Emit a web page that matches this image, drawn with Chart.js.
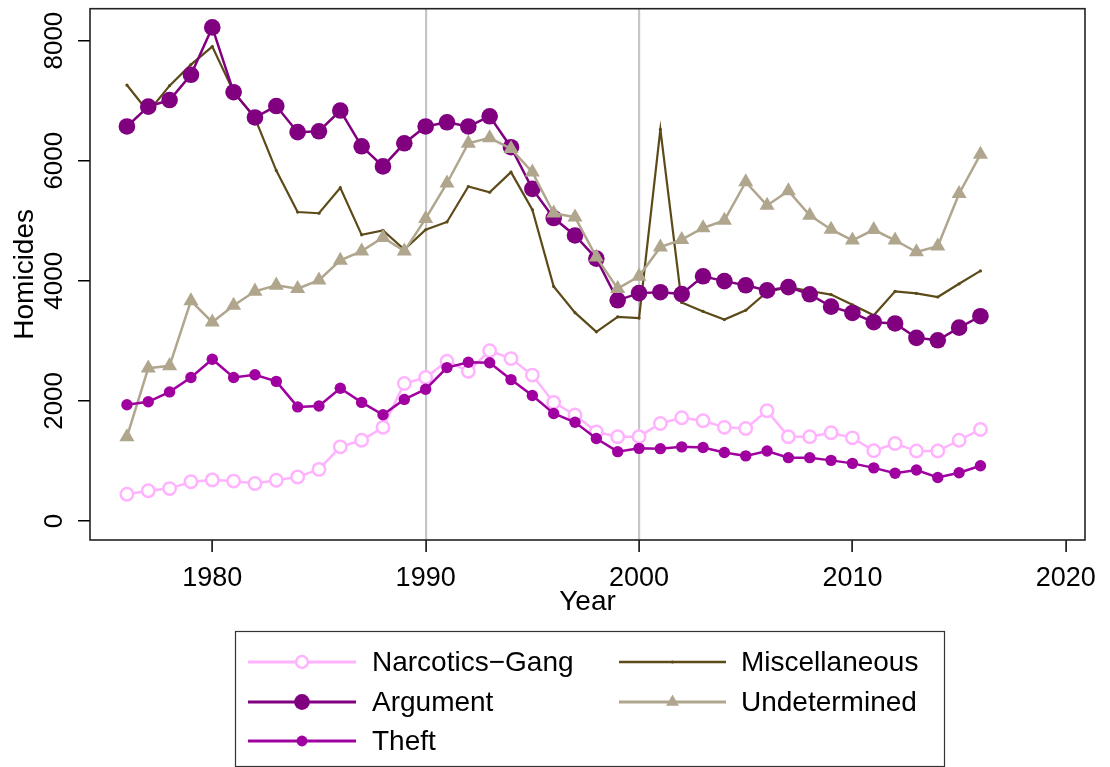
<!DOCTYPE html>
<html>
<head>
<meta charset="utf-8">
<script src="https://cdn.jsdelivr.net/npm/chart.js@4.4.1/dist/chart.umd.min.js"></script>
<style>
  html, body { margin: 0; padding: 0; background: #fff; }
  #wrap { width: 1110px; height: 767px; position: relative; }
  canvas { display: block; }
</style>
</head>
<body>
<div id="wrap"><canvas id="chart" width="1110" height="767"></canvas></div>
<script>
// Homicides by circumstance, 1976–2016
const years = [1976, 1977, 1978, 1979, 1980, 1981, 1982, 1983, 1984, 1985,
  1986, 1987, 1988, 1989, 1990, 1991, 1992, 1993, 1994, 1995,
  1996, 1997, 1998, 1999, 2000, 2001, 2002, 2003, 2004, 2005,
  2006, 2007, 2008, 2009, 2010, 2011, 2012, 2013, 2014, 2015, 2016];

const narcoticsGang = [445, 505, 540, 655, 685, 665, 625, 680, 735, 860,
  1235, 1345, 1560, 2290, 2390, 2660, 2495, 2835, 2705, 2430,
  1975, 1765, 1485, 1405, 1405, 1625, 1720, 1670, 1560, 1540,
  1835, 1405, 1405, 1470, 1385, 1170, 1290, 1165, 1165, 1345, 1525];

const miscellaneous = [7260, 6810, 7250, 7600, 7900, 7150, 6710, 5835, 5145, 5125,
  5550, 4765, 4840, 4520, 4850, 4980, 5570, 5475, 5810, 5185,
  3905, 3470, 3150, 3400, 3380, 6520, 3640, 3490, 3355, 3510,
  3815, 3895, 3830, 3770, 3600, 3425, 3825, 3790, 3730, 3950, 4165];

const argument = [6570, 6900, 7010, 7430, 8220, 7140, 6720, 6910, 6475, 6490,
  6835, 6240, 5905, 6290, 6570, 6640, 6570, 6740, 6225, 5530,
  5045, 4755, 4370, 3675, 3795, 3810, 3780, 4075, 3995, 3925,
  3840, 3895, 3775, 3570, 3465, 3310, 3290, 3050, 3010, 3220, 3410];

const undetermined = [1400, 2545, 2585, 3665, 3310, 3590, 3825, 3925, 3870, 4010,
  4340, 4495, 4720, 4495, 5035, 5625, 6290, 6380, 6200, 5810,
  5125, 5060, 4395, 3870, 4075, 4560, 4685, 4880, 5005, 5645,
  5255, 5495, 5090, 4855, 4675, 4850, 4675, 4480, 4575, 5450, 6105];

const theft = [1935, 1985, 2150, 2390, 2695, 2390, 2435, 2325, 1900, 1915,
  2210, 1975, 1770, 2025, 2195, 2555, 2645, 2635, 2355, 2090,
  1790, 1645, 1375, 1155, 1210, 1205, 1235, 1225, 1140, 1085,
  1165, 1055, 1055, 1010, 960, 885, 795, 850, 725, 805, 920];

const xTickValues = [1980, 1990, 2000, 2010, 2020];
const yTickValues = [0, 2000, 4000, 6000, 8000];
const referenceYears = [1990, 2000];

const FONT = "'Liberation Sans', Arial, Helvetica, sans-serif";
Chart.defaults.font.family = FONT;
Chart.defaults.color = '#000';

const toPoints = vals => vals.map((v, i) => ({ x: years[i], y: v }));

const seriesDefs = [
  { label: 'Narcotics\u2212Gang', values: narcoticsGang, color: '#ffb3ff', style: 'circle', radius: 6.2, hollow: true, width: 2.5 },
  { label: 'Miscellaneous', values: miscellaneous, color: '#5c4a18', style: 'circle', radius: 1.6, hollow: false, width: 2.2 },
  { label: 'Argument', values: argument, color: '#800080', style: 'circle', radius: 8.3, hollow: false, width: 2.5 },
  { label: 'Undetermined', values: undetermined, color: '#b0a68e', style: 'triangle', radius: 8.7, hollow: false, width: 2.5 },
  { label: 'Theft', values: theft, color: '#a0009f', style: 'circle', radius: 5.7, hollow: false, width: 2.5 }
];

const datasets = seriesDefs.map((s, i) => ({
  label: s.label,
  data: toPoints(s.values),
  borderColor: s.color,
  borderWidth: s.width,
  pointStyle: s.style,
  pointRadius: s.radius,
  pointBackgroundColor: s.hollow ? '#ffffff' : s.color,
  pointBorderColor: s.color,
  pointBorderWidth: s.hollow ? 2.5 : 0,
  fill: false,
  tension: 0,
  order: seriesDefs.length - i,
  _hollow: s.hollow
}));

// Frame around the plot region
const framePlugin = {
  id: 'frame',
  beforeDatasetsDraw(chart) {
    const { ctx, chartArea: a } = chart;
    ctx.save();
    ctx.strokeStyle = '#222';
    ctx.lineWidth = 1.6;
    ctx.strokeRect(a.left, a.top, a.right - a.left, a.bottom - a.top);
    ctx.restore();
  }
};

// Vertical tick labels on the y axis
const yLabelPlugin = {
  id: 'yLabels',
  afterDraw(chart) {
    const { ctx } = chart;
    const scale = chart.scales.y;
    ctx.save();
    ctx.fillStyle = '#000';
    ctx.font = `26px ${FONT}`;
    ctx.textAlign = 'center';
    ctx.textBaseline = 'middle';
    scale.ticks.forEach(t => {
      const y = scale.getPixelForValue(t.value);
      ctx.save();
      ctx.translate(55, y);
      ctx.rotate(-Math.PI / 2);
      ctx.fillText(String(t.value), 0, 0);
      ctx.restore();
    });
    ctx.restore();
  }
};

// Boxed two-column legend under the plot
const legendPlugin = {
  id: 'boxLegend',
  afterDraw(chart) {
    const { ctx } = chart;
    const box = { x: 235.5, y: 631.5, w: 709, h: 135 };
    const cols = [{ x0: 248, x1: 356, tx: 372 }, { x0: 619, x1: 726, tx: 741 }];
    const rows = [662, 702, 741];
    ctx.save();
    ctx.strokeStyle = '#333';
    ctx.lineWidth = 1.2;
    ctx.strokeRect(box.x, box.y, box.w, box.h);
    chart.data.datasets.forEach((ds, i) => {
      const c = cols[i % 2];
      const y = rows[Math.floor(i / 2)];
      ctx.strokeStyle = ds.borderColor;
      ctx.lineWidth = ds.borderWidth + 0.5;
      ctx.beginPath();
      ctx.moveTo(c.x0, y);
      ctx.lineTo(c.x1, y);
      ctx.stroke();
      const mx = (c.x0 + c.x1) / 2;
      const r = ds.pointRadius;
      ctx.beginPath();
      if (ds.pointStyle === 'triangle') {
        const rr = r * 0.85;
        ctx.moveTo(mx, y - rr);
        ctx.lineTo(mx + rr * Math.sqrt(3) / 2, y + rr / 2);
        ctx.lineTo(mx - rr * Math.sqrt(3) / 2, y + rr / 2);
        ctx.closePath();
      } else {
        ctx.arc(mx, y, r * 0.95, 0, Math.PI * 2);
      }
      ctx.fillStyle = ds.pointBackgroundColor;
      ctx.fill();
      if (ds._hollow) {
        ctx.lineWidth = ds.pointBorderWidth;
        ctx.strokeStyle = ds.pointBorderColor;
        ctx.stroke();
      }
      ctx.fillStyle = '#000';
      ctx.font = `28px ${FONT}`;
      ctx.textAlign = 'left';
      ctx.textBaseline = 'middle';
      ctx.fillText(ds.label, c.tx, y + 1);
    });
    ctx.restore();
  }
};

new Chart(document.getElementById('chart'), {
  type: 'line',
  data: { datasets },
  options: {
    responsive: false,
    animation: false,
    devicePixelRatio: 1,
    layout: { padding: { top: 8, right: 25, left: 0, bottom: 146 } },
    plugins: {
      legend: { display: false },
      tooltip: { enabled: false }
    },
    scales: {
      x: {
        type: 'linear',
        min: 1974.27,
        max: 2020.9,
        afterBuildTicks: s => { s.ticks = xTickValues.map(v => ({ value: v })); },
        afterFit: s => { s.height = 81; },
        ticks: {
          font: { size: 27 },
          color: '#000',
          padding: 10,
          maxRotation: 0,
          autoSkip: false,
          callback: v => String(v)
        },
        grid: {
          drawOnChartArea: true,
          color: c => (c.tick && referenceYears.includes(c.tick.value)) ? '#c6c6c6' : 'rgba(0,0,0,0)',
          lineWidth: 2.2,
          tickColor: '#000',
          tickWidth: 1.5,
          tickLength: 12
        },
        border: { display: false },
        title: {
          display: true,
          text: 'Year',
          font: { size: 28 },
          color: '#000',
          padding: { top: 0, bottom: 2 }
        }
      },
      y: {
        type: 'linear',
        min: -316,
        max: 8531,
        afterBuildTicks: s => { s.ticks = yTickValues.map(v => ({ value: v })); },
        afterFit: s => { s.width = 90; },
        ticks: { display: false },
        grid: {
          drawOnChartArea: false,
          color: '#000',
          lineWidth: 1.5,
          tickLength: 12
        },
        border: { display: false },
        title: {
          display: true,
          text: 'Homicides',
          font: { size: 28 },
          color: '#000',
          padding: { top: 8, bottom: 0 }
        }
      }
    }
  },
  plugins: [framePlugin, yLabelPlugin, legendPlugin]
});
</script>
</body>
</html>
